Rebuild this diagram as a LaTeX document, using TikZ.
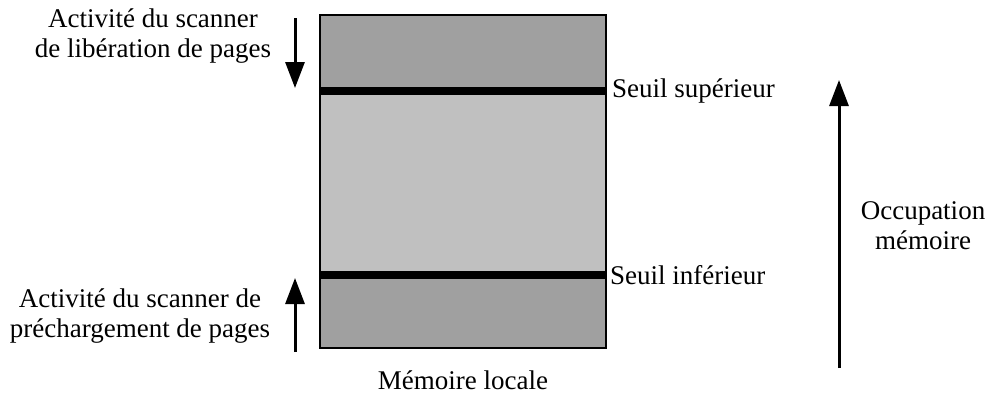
\documentclass[tikz,border=0pt]{standalone}
\usepackage{fontspec}
\setmainfont{Liberation Serif}
\usetikzlibrary{arrows.meta}
\definecolor{darkfill}{HTML}{A0A0A0}
\definecolor{lightfill}{HTML}{C0C0C0}
\begin{document}
\begin{tikzpicture}[x=1bp,y=-1bp,
  lbl/.style={font=\fontsize{27bp}{30bp}\selectfont, inner sep=0pt, align=center},
  onelbl/.style={font=\fontsize{27bp}{30bp}\selectfont, inner sep=0pt},
  bigarrow/.style={line width=3bp, -{Triangle[length=26bp,width=19bp]}},
  bar/.style={line width=8bp}]
\useasboundingbox (0,0) rectangle (991,394);
% memory box
\fill[darkfill] (320,15) rectangle (606,91);
\fill[lightfill] (320,91) rectangle (606,275);
\fill[darkfill] (320,275) rectangle (606,348);
\draw[line width=2.5bp] (320,15) rectangle (606,348);
\coordinate (supL) at (320,91);
\coordinate (supR) at (607,91);
\coordinate (infL) at (320,275);
\coordinate (infR) at (607,275);
\draw[bar] (supL) -- (supR);
\draw[bar] (infL) -- (infR);
% labels
\node[onelbl, anchor=west] (sup) at (612,91) {Seuil supérieur};
\node[onelbl, anchor=west] (inf) at (610,275) {Seuil inférieur};
\node[lbl] (top) at (153,36) {Activité du scanner\\de libération de pages};
\node[lbl] (bot) at (140,316) {Activité du scanner de\\préchargement de pages};
\node[lbl] (occ) at (923,226) {Occupation\\mémoire};
\node[onelbl, anchor=base] (mem) at (463,389) {Mémoire locale};
% arrows
\coordinate (a1s) at (295,18);
\coordinate (a1e) at (295,88);
\coordinate (a2s) at (295,352);
\coordinate (a2e) at (295,278);
\coordinate (a3s) at (839,368);
\coordinate (a3e) at (839,80);
\draw[bigarrow] (a1s) -- (a1e);
\draw[bigarrow] (a2s) -- (a2e);
\draw[bigarrow] (a3s) -- (a3e);
\end{tikzpicture}
\end{document}
